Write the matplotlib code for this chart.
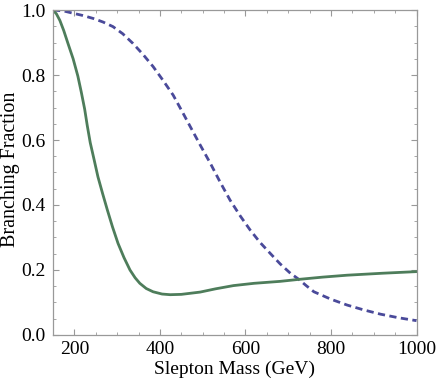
import matplotlib
matplotlib.use("Agg")
import matplotlib.pyplot as plt
from matplotlib.ticker import MultipleLocator

# values
mass_solid = [150, 158, 166, 175, 185, 197, 208, 216, 224, 230, 237, 246, 255, 266,
              277, 289, 302, 316, 330, 342, 353, 368, 384, 405, 424, 450, 494, 530,
              572, 620, 681, 724, 780, 838, 920, 1000]
bf_solid = [1.0, 0.988, 0.968, 0.937, 0.897, 0.85, 0.797, 0.748, 0.695, 0.645, 0.592, 0.54,
            0.487, 0.435, 0.385, 0.333, 0.282, 0.238, 0.20, 0.176, 0.159, 0.143, 0.133,
            0.126, 0.124, 0.125, 0.132, 0.142, 0.152, 0.159, 0.165, 0.171, 0.178,
            0.184, 0.190, 0.195]

mass_dashed = [150, 175, 197, 220, 244, 267, 290, 313, 337, 360, 384, 407, 431, 451,
               471, 494, 518, 541, 564, 588, 611, 634, 658, 681, 705, 724, 742, 760,
               800, 838, 877, 916, 958, 1000]
bf_dashed = [1.0, 0.997, 0.99, 0.983, 0.974, 0.963, 0.949, 0.927, 0.897, 0.864, 0.826,
             0.784, 0.738, 0.69, 0.641, 0.585, 0.528, 0.47, 0.415, 0.366, 0.323, 0.285,
             0.251, 0.219, 0.19, 0.172, 0.152, 0.133, 0.11, 0.092, 0.077, 0.064,
             0.053, 0.044]

plt.rcParams["font.family"] = ["Liberation Serif", "DejaVu Serif"]

fig = plt.figure(figsize=(4.36, 3.85), dpi=100)
ax = fig.add_axes([0.1216, 0.1299, 0.8337, 0.8441])

ax.plot(mass_dashed, bf_dashed, color="#4a4a9a", lw=2.0, dashes=(2.6, 1.6))
ax.plot(mass_solid, bf_solid, color="#4e7d5b", lw=2.0)

ax.set_xlim(150, 1000)
ax.set_ylim(0, 1.0)
ax.xaxis.set_major_locator(MultipleLocator(200))
ax.xaxis.set_minor_locator(MultipleLocator(50))
ax.yaxis.set_major_locator(MultipleLocator(0.2))
ax.yaxis.set_minor_locator(MultipleLocator(0.05))
ax.xaxis.set_major_formatter(plt.FuncFormatter(lambda v, p: f"{v:.0f}"))
ax.yaxis.set_major_formatter(plt.FuncFormatter(lambda v, p: f"{v:.1f}"))

for s in ax.spines.values():
    s.set_color("#999999")
    s.set_linewidth(0.9)
ax.tick_params(which="both", direction="in", top=True, right=True,
               color="#999999", labelsize=14)
ax.tick_params(axis="y", pad=5.5)
ax.tick_params(axis="x", pad=4.5)
ax.tick_params(which="major", length=4.5, width=0.8)
ax.tick_params(which="minor", length=2.5, width=0.6)

ax.set_xlabel("Slepton Mass (GeV)", fontsize=14, labelpad=2)
ax.set_ylabel("Branching Fraction", fontsize=14.5)
ax.yaxis.set_label_coords(-0.092, 0.51)

fig.savefig("out.png", dpi=100)
